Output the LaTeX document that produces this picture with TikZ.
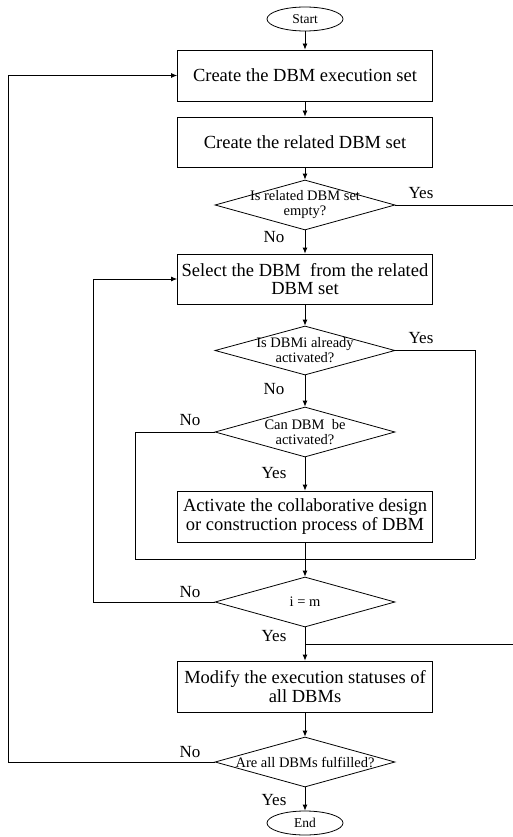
\documentclass[tikz,border=0pt]{standalone}
\usepackage{fontspec}
\setmainfont{Liberation Serif}
\usetikzlibrary{shapes.geometric,arrows.meta}
\begin{document}
\begin{tikzpicture}[x=1pt,y=-1pt,line width=0.8pt,
  box/.style={draw, minimum width=255pt, minimum height=51pt, inner sep=0pt,
    align=center, font=\fontsize{18.5}{18.5}\selectfont},
  dia/.style={draw, diamond, minimum width=180pt, minimum height=50pt, inner sep=0pt},
  dtext/.style={align=center, inner sep=0pt, font=\fontsize{14.5}{15}\selectfont},
  term/.style={draw, ellipse, minimum width=76pt, minimum height=24pt, inner sep=0pt,
    font=\fontsize{13.5}{14}\selectfont},
  lbl/.style={inner sep=0pt, font=\fontsize{17}{17}\selectfont},
  flow/.style={-{Latex[length=6pt,width=5pt]}}]
\useasboundingbox (0,0) rectangle (513,837);

% main column
\node[term] (start) at (305,19) {Start};
\node[box] (b1) at (305,75.5) {Create the DBM execution set};
\node[box, minimum height=50pt] (b2) at (305,142) {Create the related DBM set};
\node[dia] (d1) at (305,205) {};
\node[dtext] (d1t) at (d1) {Is related DBM set\\empty?};
\node[box, minimum height=50pt] (b3) at (305,279) {Select the DBM\ \ from the related\\DBM set};
\node[dia, minimum height=49pt] (d2) at (305,350.5) {};
\node[dtext] (d2t) at (d2) {Is DBMi already\\activated?};
\node[dia] (d3) at (305,432) {};
\node[dtext] (d3t) at (d3) {Can DBM\ \ be\\activated?};
\node[box] (b4) at (305,516.5) {Activate the collaborative design\\or construction process of DBM};
\node[dia] (d4) at (305,602) {};
\node[dtext] (d4t) at (d4) {i = m};
\node[box] (b5) at (305,686.5) {Modify the execution statuses of\\all DBMs};
\node[dia] (d5) at (305,762) {};
\node[dtext] (d5t) at (d5) {Are all DBMs fulfilled?};
\node[term] (end) at (305,823) {End};

% junction points
\coordinate (m)  at (305,559);
\coordinate (mL) at (135,559);
\coordinate (mR) at (475,559);
\coordinate (j)  at (305,644);
\coordinate (jR) at (513,644);
\coordinate (d1R) at (513,205);
\coordinate (loopA) at (93,602);
\coordinate (loopB) at (8,762);

% straight flow
\draw[flow] (start) -- (b1);
\draw[flow] (b1) -- (b2);
\draw[flow] (b2) -- (d1);
\draw[flow] (d1) -- (b3);
\draw[flow] (b3) -- (d2);
\draw[flow] (d2) -- (d3);
\draw[flow] (d3) -- (b4);
\draw (b4) -- (m);
\draw[flow] (m) -- (d4);
\draw[flow] (d4) -- (b5);
\draw[flow] (b5) -- (d5);
\draw[flow] (d5) -- (end);

% branches
\draw (d1.east) -- (d1R);
\draw (d2.east) -| (mR);
\draw (d3.west) -| (mL);
\draw (mL) -- (mR);
\draw (j) -- (jR);
\draw[flow] (d4.west) -- (loopA) |- (b3.west);
\draw[flow] (d5.west) -- (loopB) |- (b1.west);

% branch labels
\node[lbl] (l1y) at (421,193) {Yes};
\node[lbl] (l1n) at (274,237) {No};
\node[lbl] (l2y) at (421,338) {Yes};
\node[lbl] (l2n) at (274,389) {No};
\node[lbl] (l3n) at (190,420) {No};
\node[lbl] (l3y) at (274,473) {Yes};
\node[lbl] (l4n) at (190,592) {No};
\node[lbl] (l4y) at (274,636) {Yes};
\node[lbl] (l5n) at (190,752) {No};
\node[lbl] (l5y) at (274,800) {Yes};
\end{tikzpicture}
\end{document}
